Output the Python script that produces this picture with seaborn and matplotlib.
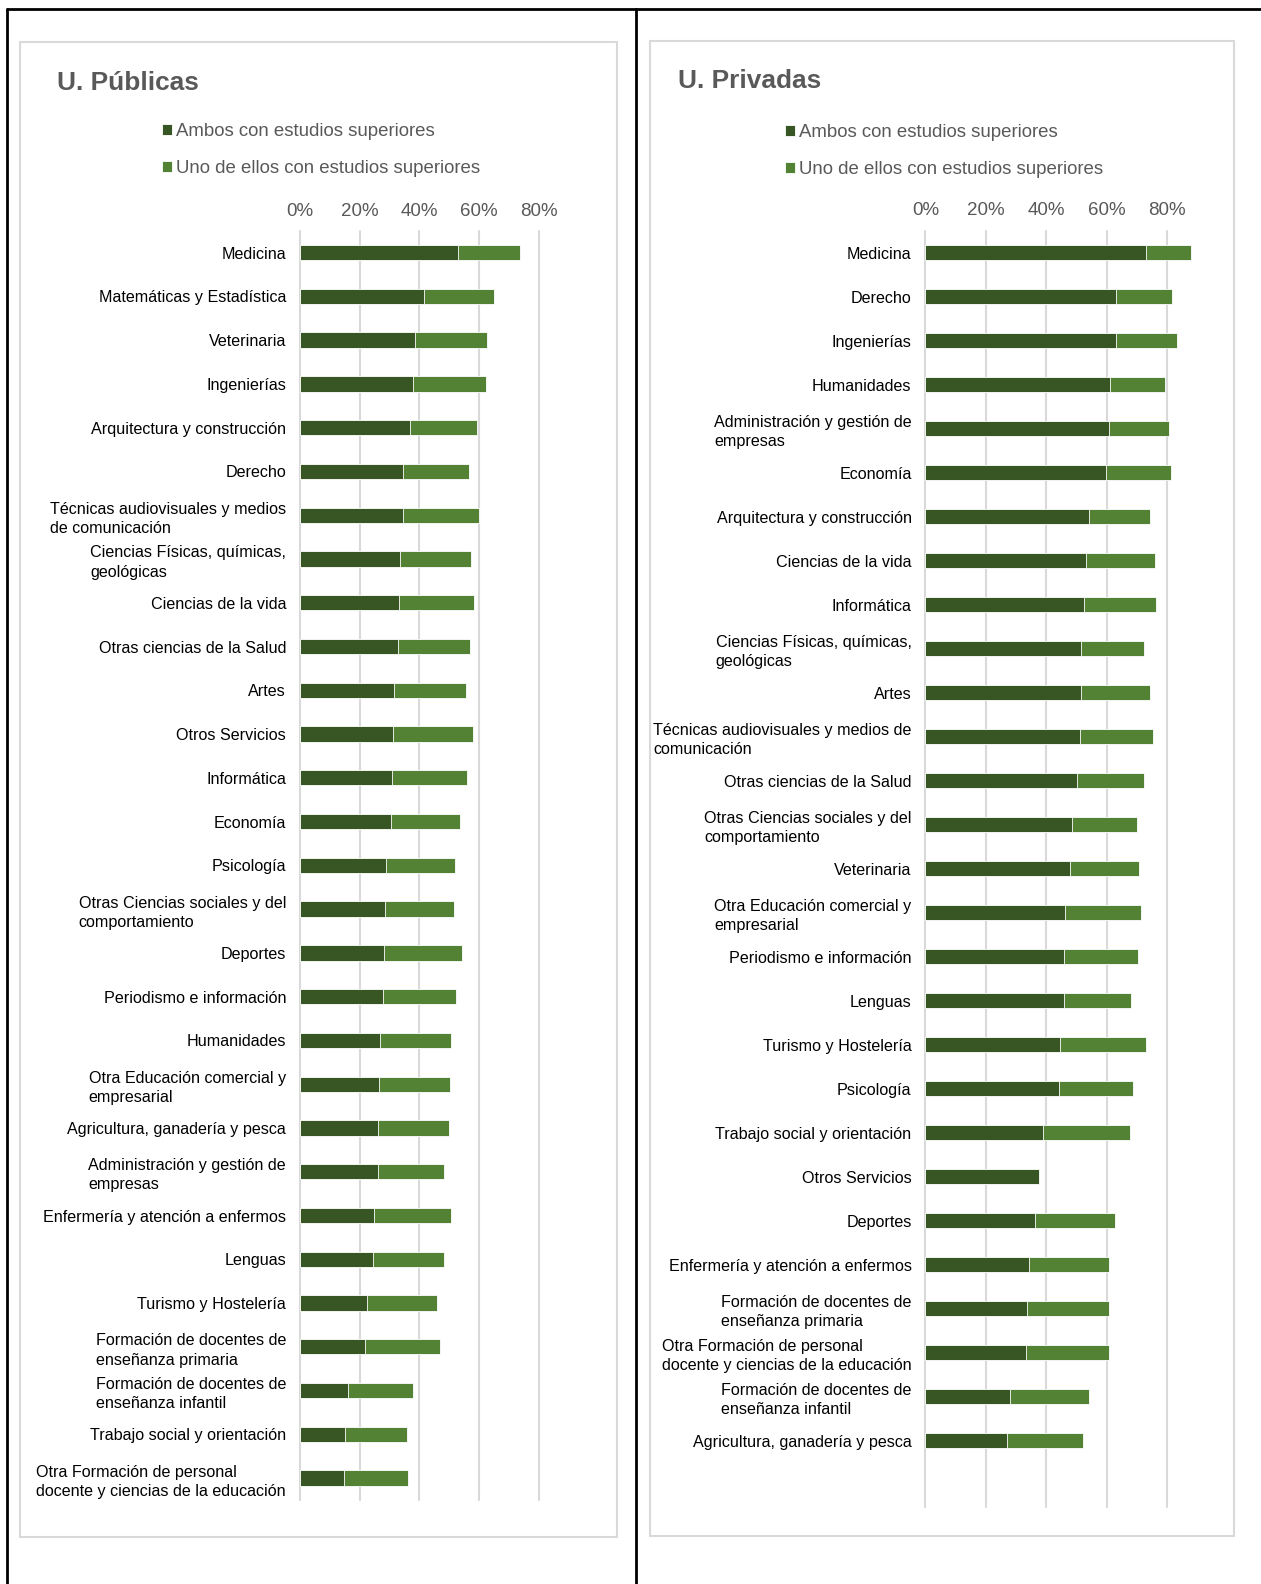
"""
plot.py — Ambos / uno de los progenitores con estudios superiores,
por rama de estudio, universidades públicas vs privadas.
"""
import matplotlib.pyplot as plt
import matplotlib.ticker as mticker
from matplotlib.lines import Line2D
from matplotlib.patches import Rectangle
import seaborn as sns

# ── Data (percent) ────────────────────────────────────────────────────────────
pub_categories = [
    "Medicina",
    "Matemáticas y Estadística",
    "Veterinaria",
    "Ingenierías",
    "Arquitectura y construcción",
    "Derecho",
    "Técnicas audiovisuales y medios\nde comunicación",
    "Ciencias Físicas, químicas,\ngeológicas",
    "Ciencias de la vida",
    "Otras ciencias de la Salud",
    "Artes",
    "Otros Servicios",
    "Informática",
    "Economía",
    "Psicología",
    "Otras Ciencias sociales y del\ncomportamiento",
    "Deportes",
    "Periodismo e información",
    "Humanidades",
    "Otra Educación comercial y\nempresarial",
    "Agricultura, ganadería y pesca",
    "Administración y gestión de\nempresas",
    "Enfermería y atención a enfermos",
    "Lenguas",
    "Turismo y Hostelería",
    "Formación de docentes de\nenseñanza primaria",
    "Formación de docentes de\nenseñanza infantil",
    "Trabajo social y orientación",
    "Otra Formación de personal\ndocente y ciencias de la educación",
]
pub_ambos = [52.8, 41.7, 38.5, 37.9, 37.0, 34.5, 34.5, 33.5, 33.2, 33.0,
             31.6, 31.3, 30.8, 30.6, 28.8, 28.4, 28.2, 27.8, 26.9, 26.6,
             26.3, 26.3, 24.9, 24.6, 22.5, 21.9, 16.2, 15.2, 14.9]
pub_uno = [21.1, 23.3, 24.2, 24.4, 22.3, 22.0, 25.6, 23.7, 25.2, 23.9,
           24.0, 26.7, 25.1, 23.0, 23.2, 23.2, 26.0, 24.5, 23.7, 23.8,
           23.8, 22.0, 25.6, 23.8, 23.5, 25.0, 21.8, 20.8, 21.3]

priv_categories = [
    "Medicina",
    "Derecho",
    "Ingenierías",
    "Humanidades",
    "Administración y gestión de\nempresas",
    "Economía",
    "Arquitectura y construcción",
    "Ciencias de la vida",
    "Informática",
    "Ciencias Físicas, químicas,\ngeológicas",
    "Artes",
    "Técnicas audiovisuales y medios de\ncomunicación",
    "Otras ciencias de la Salud",
    "Otras Ciencias sociales y del\ncomportamiento",
    "Veterinaria",
    "Otra Educación comercial y\nempresarial",
    "Periodismo e información",
    "Lenguas",
    "Turismo y Hostelería",
    "Psicología",
    "Trabajo social y orientación",
    "Otros Servicios",
    "Deportes",
    "Enfermería y atención a enfermos",
    "Formación de docentes de\nenseñanza primaria",
    "Otra Formación de personal\ndocente y ciencias de la educación",
    "Formación de docentes de\nenseñanza infantil",
    "Agricultura, ganadería y pesca",
]
priv_ambos = [73.1, 63.1, 63.0, 61.1, 60.8, 59.8, 54.2, 53.1, 52.5, 51.4,
              51.5, 51.2, 50.2, 48.6, 48.0, 46.2, 45.9, 45.9, 44.6, 44.2,
              39.0, 37.5, 36.3, 34.4, 33.7, 33.3, 27.9, 27.0]
priv_uno = [14.9, 18.6, 20.4, 18.3, 19.9, 21.5, 20.2, 22.8, 23.9, 20.9,
            22.9, 24.1, 22.3, 21.4, 22.6, 25.1, 24.5, 22.2, 28.5, 24.6,
            28.8, 0.0, 26.6, 26.4, 27.1, 27.5, 26.3, 25.1]

series_labels = ["Ambos con estudios superiores", "Uno de ellos con estudios superiores"]
x_ticks = [0, 20, 40, 60, 80]

# ── Style ─────────────────────────────────────────────────────────────────────
sns.set_theme(style="white")
plt.rcParams["font.family"] = ["Liberation Sans", "DejaVu Sans"]

DARK = "#375623"
LIGHT = "#548235"
GREY_TXT = "#595959"
GRID = "#d9d9d9"

W, H = 1261, 1584


def fx(px):
    return px / W


def fy(py):
    return 1 - py / H


def draw_panel(fig, rect, cats, ambos, uno, xmax, title, title_xy, legend_xy):
    ax = fig.add_axes(rect)
    total = [a + u for a, u in zip(ambos, uno)]
    sns.barplot(x=total, y=cats, orient="h", color=LIGHT, saturation=1,
                width=0.35, errorbar=None, edgecolor="white", linewidth=0.6,
                label=series_labels[1], ax=ax)
    sns.barplot(x=ambos, y=cats, orient="h", color=DARK, saturation=1,
                width=0.35, errorbar=None, edgecolor="white", linewidth=0.6,
                label=series_labels[0], ax=ax)

    ax.set_xlim(0, xmax)
    ax.set_ylim(28.5, -0.5)
    ax.set_xticks(x_ticks)
    ax.xaxis.set_major_formatter(mticker.PercentFormatter(decimals=0))
    ax.xaxis.tick_top()
    ax.set_xlabel("")
    ax.set_ylabel("")
    ax.tick_params(axis="x", length=0, pad=8, labelsize=13.5, labelcolor=GREY_TXT)
    ax.tick_params(axis="y", length=0, pad=10, labelsize=11.6, labelcolor="black")
    for lbl in ax.get_yticklabels():
        lbl.set_multialignment("left")
        lbl.set_linespacing(1.35)

    ax.grid(axis="x", color=GRID, linewidth=1.5)
    ax.grid(axis="y", visible=False)
    ax.set_axisbelow(True)
    for line in ax.get_xgridlines():
        line.set_clip_on(False)
    sns.despine(ax=ax, left=True, bottom=True)

    handles, labels = ax.get_legend_handles_labels()
    order = [labels.index(s) for s in series_labels]
    ax.legend([handles[i] for i in order], [labels[i] for i in order],
              loc="upper left", bbox_to_anchor=legend_xy,
              bbox_transform=fig.transFigure, frameon=False, fontsize=13.4,
              labelcolor=GREY_TXT, handlelength=0.55, handleheight=0.55,
              handletextpad=0.18, labelspacing=1.07, borderpad=0,
              borderaxespad=0)

    fig.text(title_xy[0], title_xy[1], title, ha="left", va="center",
             fontsize=18.9, fontweight="bold", color=GREY_TXT)
    return ax


fig = plt.figure(figsize=(W / 100, H / 100), dpi=100)

# ── Frames ────────────────────────────────────────────────────────────────────
for x0, y0, x1, y1 in [(20, 42, 617, 1537), (650, 41, 1234, 1536)]:
    fig.patches.append(Rectangle((fx(x0), fy(y1)), fx(x1 - x0), (y1 - y0) / H,
                                 transform=fig.transFigure, fill=False,
                                 edgecolor=GRID, linewidth=1.5))
for xs, ys in [((7, W), (9, 9)), ((7, 7), (9, H)), ((636, 636), (9, H))]:
    fig.lines.append(Line2D([fx(v) for v in xs], [fy(v) for v in ys],
                            transform=fig.transFigure, color="black",
                            linewidth=2))

# ── Panels ────────────────────────────────────────────────────────────────────
draw_panel(fig,
           [fx(300), fy(1500), 80 * 2.983 / W, 1269.3 / H],
           pub_categories, pub_ambos, pub_uno, 80,
           "U. Públicas", (fx(56.6), fy(83)), (fx(162), fy(123)))
draw_panel(fig,
           [fx(925.5), fy(1506.6), 90 * 3.02 / W, 1276 / H],
           priv_categories, priv_ambos, priv_uno, 90,
           "U. Privadas", (fx(678), fy(81)), (fx(785), fy(124)))

fig.savefig("out.png", dpi=100)
